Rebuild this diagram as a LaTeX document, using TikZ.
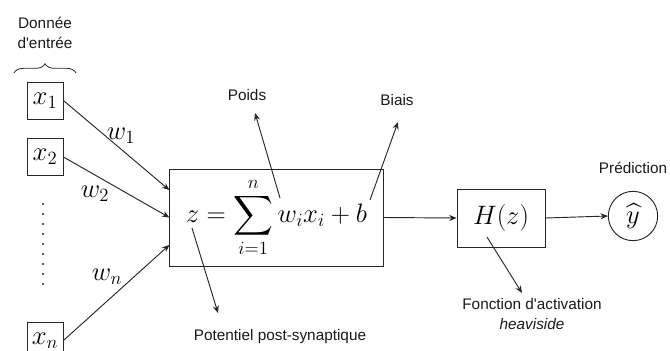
\documentclass[tikz,border=0pt]{standalone}
\usepackage{fix-cm}
\usepackage{exscale}
\usepackage{fontspec}
\newfontfamily\lab{Liberation Sans}
\usetikzlibrary{arrows.meta,decorations.pathreplacing,calc}
\begin{document}
\begin{tikzpicture}[x=0.75pt,y=-0.75pt,
  lbl/.style={font=\lab\fontsize{11.5}{15}\selectfont, text=black!90, inner sep=0pt, align=center},
  mth/.style={font=\fontsize{20}{24}\selectfont},
  box/.style={draw=black!85, line width=0.7pt, inner sep=0pt, mth},
  arr/.style={draw=black!85, line width=0.7pt, -{Stealth[length=5.5pt,width=4.5pt]}},
  wlbl/.style={mth, inner sep=0pt},
  ]
\useasboundingbox (0,0) rectangle (670,350);

% inputs
\node[lbl] (don) at (45,33) {Donnée\\d'entrée};
\coordinate (bl) at (14,73);
\coordinate (br) at (76,73);
\draw[black!85, line width=0.6pt, decorate, decoration={brace, amplitude=7pt}] (bl) -- (br);

\node[box, minimum width=27pt, minimum height=27.75pt] (x1) at (45,100.5) {$x_1$};
\node[box, minimum width=27pt, minimum height=27.75pt] (x2) at (45,157) {$x_2$};
\node[box, minimum width=27pt, minimum height=27.75pt] (xn) at (45,340.5) {$x_n$};

\coordinate (dtop) at (43,204);
\coordinate (dbot) at (43,294);
\draw[black!85, line width=1.6pt, line cap=round, dash pattern=on 0pt off 7.5pt] (dtop) -- (dbot);

% main box
\node[box, minimum width=160pt, minimum height=72.75pt] (main) at (276.5,217.5)
  {$\displaystyle z=\sum_{i=1}^{n} w_i x_i + b$};

\draw[arr] (x1.east) -- ($(main.north west)!0.22!(main.south west)$);
\draw[arr] (x2.east) -- ($(main.north west)!0.5!(main.south west)$);
\draw[arr] (xn.east) -- ($(main.north west)!0.78!(main.south west)$);

\node[wlbl] (w1) at (121,136) {$w_1$};
\node[wlbl] (w2) at (95,194) {$w_2$};
\node[wlbl] (wn) at (107,277) {$w_n$};

% annotations
\node[lbl] (poids) at (247,95) {Poids};
\coordinate (wi) at (280,198);
\coordinate (poidstip) at (255,113);
\draw[arr] (wi) -- (poidstip);

\node[lbl] (biais) at (397,100) {Biais};
\coordinate (bb) at (370,200);
\coordinate (biaistip) at (398,122);
\draw[arr] (bb) -- (biaistip);

\node[lbl] (pot) at (280,337) {Potentiel post-synaptique};
\coordinate (zz) at (192,228);
\coordinate (pottip) at (218,313);
\draw[arr] (zz) -- (pottip);

% activation
\node[box, minimum width=66pt, minimum height=43.5pt] (H) at (501,218) {$H(z)$};
\draw[arr] (main.east) -- (H.west);

\node[box, circle, minimum size=37pt] (y) at (633,216) {$\widehat{y}$};
\draw[arr] (H.east) -- (y.west);
\node[lbl] (pred) at (633,168) {Prédiction};

\node[lbl] (fonc) at (532,314) {Fonction d'activation\\\itshape heaviside};
\coordinate (hz) at (487,237);
\coordinate (fonctip) at (522,293);
\draw[arr] (hz) -- (fonctip);
\end{tikzpicture}
\end{document}
